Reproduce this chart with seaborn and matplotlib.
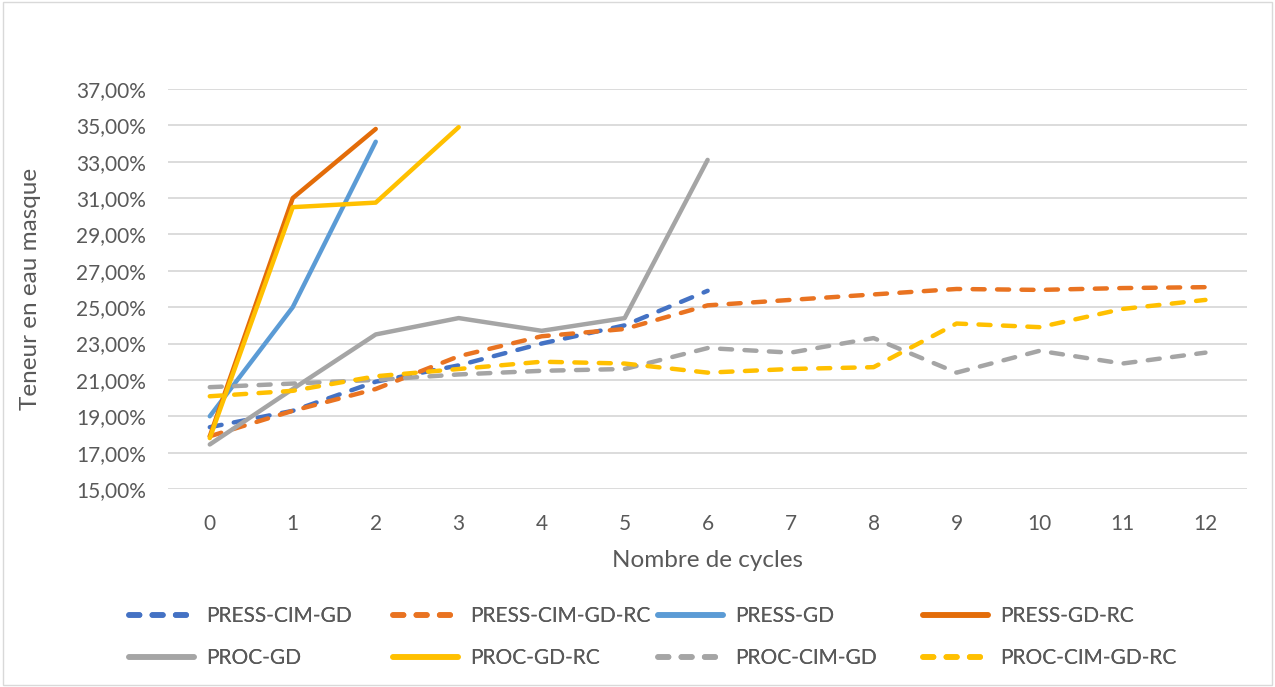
import matplotlib.pyplot as plt
import matplotlib.ticker as mticker
import numpy as np
import pandas as pd
import seaborn as sns
from matplotlib.patches import Rectangle
from matplotlib.lines import Line2D

nan = np.nan
cycles = list(range(13))

press_cim_gd = [18.4, 19.3, 20.9, 21.8, 23.0, 24.0, 25.9, nan, nan, nan, nan, nan, nan]
press_cim_gd_rc = [17.9, 19.3, 20.5, 22.3, 23.4, 23.8, 25.1, 25.4, 25.7, 26.0, 25.95, 26.05, 26.1]
press_gd = [19.0, 25.0, 34.1, nan, nan, nan, nan, nan, nan, nan, nan, nan, nan]
press_gd_rc = [17.9, 31.0, 34.8, nan, nan, nan, nan, nan, nan, nan, nan, nan, nan]
proc_gd = [17.45, 20.5, 23.5, 24.4, 23.7, 24.4, 33.1, nan, nan, nan, nan, nan, nan]
proc_gd_rc = [17.8, 30.5, 30.75, 34.9, nan, nan, nan, nan, nan, nan, nan, nan, nan]
proc_cim_gd = [20.6, 20.8, 21.0, 21.3, 21.5, 21.6, 22.75, 22.5, 23.3, 21.4, 22.6, 21.9, 22.5]
proc_cim_gd_rc = [20.1, 20.4, 21.2, 21.6, 22.0, 21.9, 21.4, 21.6, 21.7, 24.1, 23.9, 24.9, 25.4]

series = [
    ("PRESS-CIM-GD", press_cim_gd, "#4472C4", "dash"),
    ("PRESS-CIM-GD-RC", press_cim_gd_rc, "#E97321", "dash"),
    ("PRESS-GD", press_gd, "#5B9BD5", "solid"),
    ("PRESS-GD-RC", press_gd_rc, "#E36C09", "solid"),
    ("PROC-GD", proc_gd, "#A5A5A5", "solid"),
    ("PROC-GD-RC", proc_gd_rc, "#FFC000", "solid"),
    ("PROC-CIM-GD", proc_cim_gd, "#A5A5A5", "dash"),
    ("PROC-CIM-GD-RC", proc_cim_gd_rc, "#FFC000", "dash"),
]

sns.set_style("white")
plt.rcParams["font.family"] = ["Lato", "DejaVu Sans"]
text_color = "#595959"

fig = plt.figure(figsize=(12.75, 6.87), dpi=100)
ax = fig.add_axes([0.132, 0.2882, 0.846, 0.5823])

handles = []
for name, vals, color, style in series:
    df = pd.DataFrame({"cycle": cycles, "value": vals}).dropna()
    sns.lineplot(data=df, x="cycle", y="value", ax=ax, color=color, linewidth=3.2,
                 solid_capstyle="round", solid_joinstyle="round")
    line = ax.lines[-1]
    h = Line2D([], [], color=color, linewidth=4, solid_capstyle="round")
    if style == "dash":
        line.set_dashes((2.7, 2.8))
        line.set_dash_capstyle("round")
        line.set_dash_joinstyle("round")
        h.set_dashes((1.9, 2.3))
        h.set_dash_capstyle("round")
    handles.append((h, name))

ax.set_xlim(-0.5, 12.5)
ax.set_ylim(15, 37)
ax.set_yticks(np.arange(15, 38, 2))
ax.set_xticks(cycles)
ax.yaxis.set_major_formatter(mticker.FuncFormatter(lambda v, p: f"{v:.2f}%".replace(".", ",")))
ax.grid(axis="y", color="#D9D9D9", linewidth=1.3)
ax.grid(axis="x", visible=False)
ax.set_axisbelow(True)
for s in ax.spines.values():
    s.set_visible(False)
ax.tick_params(axis="y", length=0, labelsize=15, colors=text_color, pad=16)
ax.tick_params(axis="x", length=0, labelsize=15, colors=text_color, pad=18)
ax.set_xlabel("Nombre de cycles", fontsize=17.5, color=text_color)
ax.set_ylabel("Teneur en eau masque", fontsize=17.5, color=text_color)
ax.xaxis.set_label_coords(0.5, -0.152)
ax.yaxis.set_label_coords(-0.118, 0.5)

# legend: 4 columns of 2 rows, equal column widths like Excel
col_x = [129, 393, 658, 923]
for i, x in enumerate(col_x):
    pair = [handles[i], handles[i + 4]]
    leg = fig.legend([h for h, _ in pair], [n for _, n in pair],
                     loc="center left", bbox_to_anchor=(x / 1275, 1 - 637 / 687),
                     frameon=False, fontsize=15, labelcolor=text_color,
                     handlelength=3.1, handletextpad=0.6, labelspacing=1.05,
                     borderpad=0, borderaxespad=0)
    fig.add_artist(leg)

fig.add_artist(Rectangle((0.002, 0.003), 0.996, 0.994, transform=fig.transFigure,
                         fill=False, edgecolor="#D9D9D9", linewidth=1))

fig.savefig("out.png", dpi=100)
